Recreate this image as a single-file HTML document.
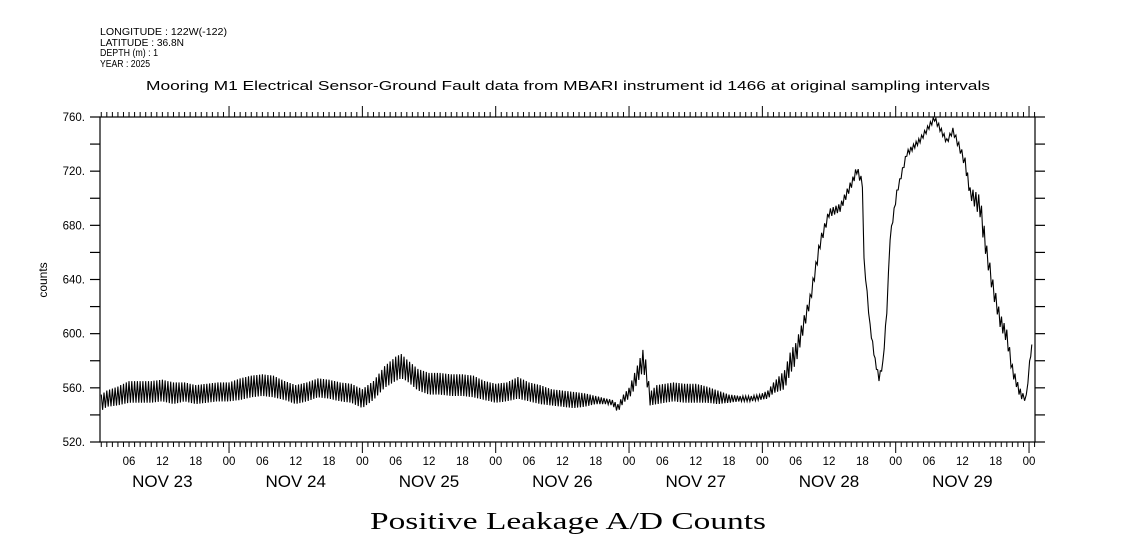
<!DOCTYPE html>
<html><head><meta charset="utf-8"><style>
html,body{margin:0;padding:0;background:#fff;}
svg{display:block;font-family:"Liberation Sans",sans-serif;}
</style></head><body>
<svg id="chart" width="1121" height="560" viewBox="0 0 1121 560">
<g font-size="10" fill="#000">
<text x="100" y="35" textLength="127" lengthAdjust="spacingAndGlyphs">LONGITUDE : 122W(-122)</text>
<text x="100" y="46" textLength="84" lengthAdjust="spacingAndGlyphs">LATITUDE : 36.8N</text>
<text x="100" y="56" textLength="58" lengthAdjust="spacingAndGlyphs">DEPTH (m) : 1</text>
<text x="100" y="67" textLength="50" lengthAdjust="spacingAndGlyphs">YEAR : 2025</text>
</g>
<text x="146" y="90" font-size="13" textLength="844" lengthAdjust="spacingAndGlyphs">Mooring M1 Electrical Sensor-Ground Fault data from MBARI instrument id 1466 at original sampling intervals</text>
<text x="0" y="0" font-size="12" text-anchor="middle" transform="translate(47,280) rotate(-90)">counts</text>
<text x="568" y="529" font-size="24" text-anchor="middle" font-family="'Liberation Serif',serif" textLength="396" lengthAdjust="spacingAndGlyphs">Positive Leakage A/D Counts</text>
<g id="axes"></g>
<g id="series"></g>
</svg>
<script>
// time in hours from NOV 23 00:00
const hours = [1,2,4,6,8,10,12,14,16,18,20,22,24,26,28,30,32,34,36,38,40,42,44,46,48,50,52,54,55,56,58,60,62,64,66,68,70,72,74,76,78,80,82,84,86,88,90,92,93,94,95,96,97,98,98.5,99,99.8,101,104,106,108,110,112,114,116,118,119.5,121,122,124,125,125.5,126,127,128.6,130.4,132,134,136.3,137,138,138.3,139.4,140.3,141,141.7,142.4,143,144.2,146,148.4,150,151,153.2,154.3,155.9,156.5,157.4,159.2,159.7,160.4,161.5,162.8,164,165,166.2,166.9,167.5,168.1,168.5];
const midValues = [549,552,554,557,557,557,558,556,557,555,556,557,557,559,561,562,561,558,555,557,560,559,557,556,552,558,568,574,576,573,566,563,563,562,562,561,558,556,557,560,557,555,553,552,551,551,551,550,549,545,552,556,565,575,580,574,552,555,557,556,556,555,553,552,552,552,553,555,560,566,578,582,585,600,625,667,689,693,713,721,711,654,605,580,567,578,617,671,704,733,743,753,759,742,750,733,726,704,694,679,659,634,610,598,573,558,553,553,578,592,598];
const ampValues = [6,6,7,8,8,8,8,8,7,7,7,7,7,8,8,8,8,7,7,7,7,7,7,7,7,7,8,9,9,8,8,8,8,8,8,8,7,7,7,8,7,7,6,6,6,5,3,2,2,3,3,4,6,7,8,7,5,7,7,7,7,6,5,3,2,2,2,3,4,7,8,8,8,6,4,4,3,3,3,3,3,2,2,2,2,2,2,2,2,2,2,2,2,2,2,3,4,4,8,8,6,6,5,5,4,3,3,2,2,2,2];
const yTicks = [520,540,560,580,600,620,640,660,680,700,720,740,760];
const yLabels = [520,560,600,640,680,720,760];
const hourLabels = ["00","06","12","18"];
const dayLabels = ["NOV 23","NOV 24","NOV 25","NOV 26","NOV 27","NOV 28","NOV 29"];

const L=100,R=1035,T=117,B=442;
const x0=95.7, pxPerHour=800/144;
function xScale(h){return x0+h*pxPerHour;}
function yScale(v){return B-(v-520)*(B-T)/240;}
const NS="http://www.w3.org/2000/svg";
const axes=document.getElementById('axes');
const series=document.getElementById('series');
function mk(tag,attrs,parent){const e=document.createElementNS(NS,tag);for(const k in attrs)e.setAttribute(k,attrs[k]);parent.appendChild(e);return e;}

const frame=mk('rect',{x:L,y:T,width:R-L,height:B-T,fill:'none',stroke:'#000','stroke-width':1.2},axes);



yTicks.forEach(v=>{
  const y=yScale(v);
  const t1=mk('line',{x1:L-10,x2:L,y1:y,y2:y,stroke:'#000','stroke-width':1.2},axes);
  
  
  const t2=mk('line',{x1:R,x2:R+10,y1:y,y2:y,stroke:'#000','stroke-width':1.2},axes);
  
  
});
yLabels.forEach(v=>{
  const t=mk('text',{x:L-15,y:yScale(v)+4,'font-size':11.5,'text-anchor':'end'},axes);
  t.textContent=v+'.';
  
  
});
for(let h=0;h<=169;h++){
  const x=xScale(h);
  if(x<L||x>R+0.5)continue;
  const major=h%24===0;
  const b=mk('line',{x1:x,x2:x,y1:B,y2:B+(major?11:5),stroke:'#000','stroke-width':1},axes);
  
  
  const t=mk('line',{x1:x,x2:x,y1:T,y2:T-(major?11:5),stroke:'#000','stroke-width':1},axes);
  
  
  if(h%6===0){
    const lb=mk('text',{x:x,y:465,'font-size':11.5,'text-anchor':'middle'},axes);
    lb.textContent=hourLabels[(h/6)%4];
    
    
  }
}
dayLabels.forEach((d,i)=>{
  const t=mk('text',{x:xScale(i*24+12),y:487,'font-size':17,'text-anchor':'middle'},axes);
  t.textContent=d;
  
  
});

// series: oscillating trace around mid values with given half-range
let pts=[];let k=0;
for(let i=0;i<hours.length-1;i++){
  const h0=hours[i],h1=hours[i+1];
  const steps=Math.max(1,Math.round((h1-h0)*4));
  for(let s=0;s<steps;s++){
    const f=s/steps;
    const h=h0+(h1-h0)*f;
    const m=midValues[i]+(midValues[i+1]-midValues[i])*f;
    const a=ampValues[i]+(ampValues[i+1]-ampValues[i])*f;
    const sign=(k++%2===0)?1:-1;
    pts.push(xScale(h).toFixed(1)+','+yScale(m+sign*a).toFixed(1));
  }
}
const n=hours.length-1;
pts.push(xScale(hours[n]).toFixed(1)+','+yScale(midValues[n]).toFixed(1));
const line=mk('polyline',{points:pts.join(' '),fill:'none',stroke:'#000','stroke-width':1.1},series);


</script>
</body></html>
